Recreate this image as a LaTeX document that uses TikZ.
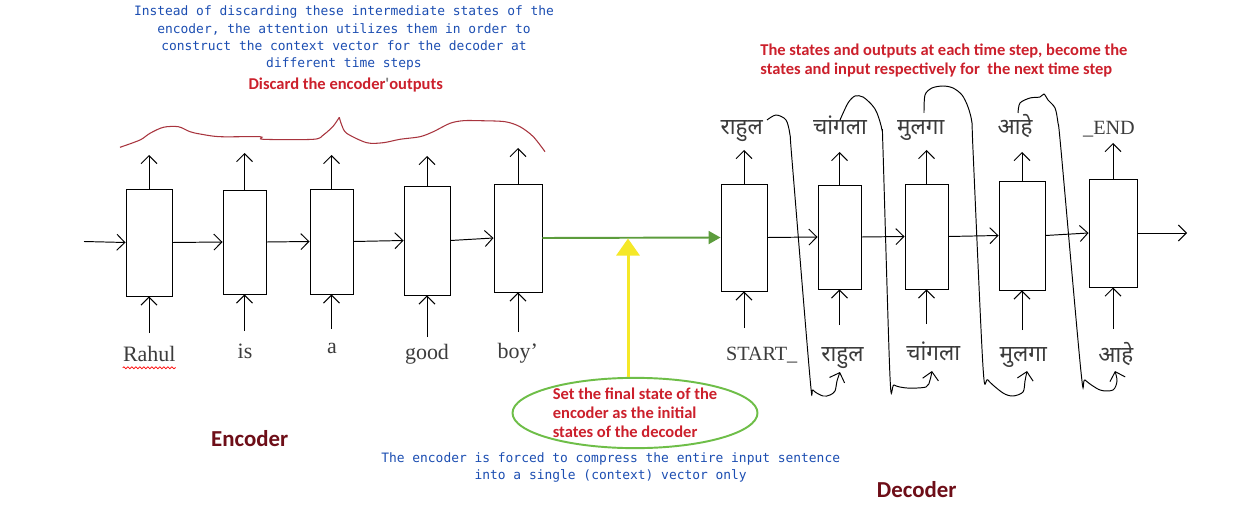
\documentclass[tikz,border=0pt]{standalone}
\usepackage{fontspec}
\setmainfont{Liberation Serif}
\newfontfamily\devafont[Script=Devanagari]{Noto Sans}
\newfontfamily\monofont{DejaVu Sans Mono}
\newfontfamily\calfont{Carlito}
\usetikzlibrary{arrows.meta,shapes.geometric,decorations.pathmorphing}
\definecolor{bluetxt}{RGB}{28,78,178}
\definecolor{redtxt}{RGB}{204,32,44}
\definecolor{darkred}{RGB}{110,14,24}
\definecolor{curvered}{RGB}{168,52,62}
\definecolor{arrgreen}{RGB}{92,156,60}
\definecolor{ellgreen}{RGB}{110,190,72}
\definecolor{yel}{RGB}{245,232,40}
\definecolor{labgray}{RGB}{60,60,60}
\begin{document}
\begin{tikzpicture}[x=0.2mm,y=-0.2mm,
  cell/.style={draw,line width=0.55pt,inner sep=0pt},
  arr/.style={-{Straight Barb[length=1.6mm,width=3.2mm]},line width=0.55pt},
  word/.style={anchor=base,inner sep=0pt,text=labgray,font=\fontsize{12.5}{15}\selectfont},
  dword/.style={anchor=base,inner sep=0pt,text=labgray,font=\devafont\fontsize{12.8}{15}\selectfont},
  bluenote/.style={inner sep=0pt,align=center,text=bluetxt,font=\monofont\fontsize{7.35}{9.85}\selectfont},
  rednote/.style={inner sep=0pt,text=redtxt,font=\calfont\bfseries\fontsize{9.4}{10.9}\selectfont},
  bigtitle/.style={inner sep=0pt,text=darkred,font=\calfont\bfseries\fontsize{13}{15}\selectfont},
  greenarr/.style={draw=arrgreen,line width=1.1pt,-{Triangle[length=2.4mm,width=2.6mm]},arrgreen},
  yelarr/.style={draw=yel,line width=1.7pt,-{Triangle[length=3.4mm,width=4.6mm]},yel},
  ell/.style={ellipse,draw=ellgreen,line width=1.1pt,minimum width=49mm,minimum height=13.8mm,inner sep=0pt,align=left,text=redtxt,font=\calfont\bfseries\fontsize{9.4}{10.8}\selectfont}
]
\fill[white] (0,0) rectangle (1253,519);
\useasboundingbox (0,0) rectangle (1253,519);

% ---------- encoder cells ----------
\node[cell,minimum width=9.2mm,minimum height=21.4mm] (E1) at (149,242.5) {};
\node[cell,minimum width=8.6mm,minimum height=20.8mm] (E2) at (244.5,242) {};
\node[cell,minimum width=8.6mm,minimum height=21mm]   (E3) at (331.5,241.5) {};
\node[cell,minimum width=9.2mm,minimum height=21.8mm] (E4) at (427,240.5) {};
\node[cell,minimum width=9.6mm,minimum height=21.6mm] (E5) at (518,238) {};

% ---------- decoder cells ----------
\node[cell,minimum width=9.2mm,minimum height=21.4mm] (D1) at (744,237.5) {};
\node[cell,minimum width=8.6mm,minimum height=20.8mm] (D2) at (839.5,237) {};
\node[cell,minimum width=8.6mm,minimum height=21mm]   (D3) at (926.5,236.5) {};
\node[cell,minimum width=9.2mm,minimum height=21.8mm] (D4) at (1022,235.5) {};
\node[cell,minimum width=9.6mm,minimum height=21.6mm] (D5) at (1113,233) {};

% ---------- coordinates for free arrow ends ----------
\coordinate (in0) at (84,241.5);
\coordinate (E1o) at (149,155);   \coordinate (E1i) at (149,333);
\coordinate (E2o) at (244.5,153); \coordinate (E2i) at (244.5,331);
\coordinate (E3o) at (331.5,155); \coordinate (E3i) at (331.5,329);
\coordinate (E4o) at (427,156);   \coordinate (E4i) at (427,337);
\coordinate (E5o) at (518,148);   \coordinate (E5i) at (518,332);
\coordinate (D1o) at (744,150);   \coordinate (D1i) at (744,328);
\coordinate (D2o) at (839.5,152); \coordinate (D2i) at (839.5,325);
\coordinate (D3o) at (926.5,150); \coordinate (D3i) at (926.5,324);
\coordinate (D4o) at (1022,152);  \coordinate (D4i) at (1022,330);
\coordinate (D5o) at (1113,143);  \coordinate (D5i) at (1113,329);
\coordinate (out5) at (1187,233);

% ---------- encoder arrows ----------
\draw[arr] (in0) -- (E1.west);
\draw[arr] (E1.east) -- (E2.west);
\draw[arr] (E2.east) -- (E3.west);
\draw[arr] (E3.east) -- (E4.west);
\draw[arr] (E4.east) -- (E5.west);
\foreach \n in {E1,E2,E3,E4,E5,D1,D2,D3,D4,D5}{
  \draw[arr] (\n.north) -- (\n o);
  \draw[arr] (\n i) -- (\n.south);
}
% ---------- decoder arrows ----------
\draw[arr] (D1.east) -- (D2.west);
\draw[arr] (D2.east) -- (D3.west);
\draw[arr] (D3.east) -- (D4.west);
\draw[arr] (D4.east) -- (D5.west);
\draw[arr] (D5.east) -- (out5);

% ---------- encoder words ----------
\node[word] (wRahul) at (149.3,361.7) {Rahul};
\node[word] (wis) at (245,358.3) {is};
\node[word] (wa) at (332,353.3) {a};
\node[word] (wgood) at (427,359) {good};
\node[word] (wboy) at (517.7,358.3) {boy'};
\draw[red,line width=0.4pt,decorate,decoration={snake,amplitude=0.2mm,segment length=0.8mm}]
  ([yshift=-1.1mm]wRahul.south west) -- ([yshift=-1.1mm]wRahul.south east);

% ---------- decoder words ----------
\node[word,font=\fontsize{11.5}{14}\selectfont] (wstart) at (761.7,360.7) {START\_};
\node[dword] (bin2) at (842.5,361.7) {राहुल};
\node[dword] (bin3) at (933.3,360) {चांगला};
\node[dword] (bin4) at (1023.3,361.7) {मुलगा};
\node[dword] (bin5) at (1115.8,362.3) {आहे};
\node[dword] (tout1) at (741.7,135) {राहुल};
\node[dword] (tout2) at (840,135) {चांगला};
\node[dword] (tout3) at (920.8,135) {मुलगा};
\node[dword] (tout4) at (1015,135) {आहे};
\node[word,font=\fontsize{11.5}{14}\selectfont] (tout5) at (1109,135) {\_END};

% ---------- feedback loops ----------
\draw[arr] plot[smooth,tension=0.5] coordinates {(767,120) (776,115) (786,120) (790,135) (792,160) (810,378) (813,390) (823,396) (830,395) (835,391) (837,381) (840,372)};
\draw[arr] plot[smooth,tension=0.5] coordinates {(840,120) (848,103) (855,96) (863,97) (872,105) (877,113) (882,130) (883,150) (890,377) (894,385) (907,388) (926,387) (930,380) (932,371)};
\draw[arr] plot[smooth,tension=0.5] coordinates {(924,113) (925,95) (932,88) (943,86) (953,88) (962,95) (968,107) (972,123) (973,150) (983,367) (988,380) (1003,393) (1013,396) (1023,392) (1025,381) (1027,371)};
\draw[arr] plot[smooth,tension=0.5] coordinates {(1018,113) (1020,103) (1030,98) (1040,97) (1044,94) (1048,100) (1055,108) (1058,123) (1061,150) (1081,372) (1085,380) (1100,390) (1113,390) (1117,381) (1115,371)};

% ---------- red brace-like curve ----------
\draw[curvered,line width=0.6pt] plot[smooth,tension=0.5] coordinates {(120,147.3) (140,140) (150,133.3) (163.3,127.3) (178.3,126.7) (190,131.7) (200,134) (220,136.7) (260,136.7) (263.3,139.3) (313.3,139.3) (323.3,135) (333.3,126) (339.3,117.3)};
\draw[curvered,line width=0.6pt] plot[smooth,tension=0.5] coordinates {(339.3,117.3) (341.7,125) (346.7,133.3) (366.7,142.7) (383.3,142.7) (400,139.3) (420,136.7) (433.3,131.7) (450,123.3) (463.3,120.7) (480,120.7) (505,121.7) (520,126.7) (533.3,136.7) (545,151.7)};

% ---------- context vector ----------
\draw[greenarr] (E5.east) -- (D1.west);
\node[ell] (ell) at (635,413) {Set the final state of the\\encoder as the initial\\states of the decoder};
\coordinate (ctx) at (628,238.5);
\draw[yelarr] (ell.north -| ctx) -- (ctx);

% ---------- notes ----------
\node[bluenote] (noteA) at (344,38.3) {Instead of discarding these intermediate states of the\\encoder, the attention utilizes them in order to\\construct the context vector for the decoder at\\different time steps};
\node[rednote] (noteB) at (345.7,85) {Discard the encoder{\color{gray}'}outputs};
\node[rednote,anchor=west,align=left] (noteC) at (760,60.3) {The states and outputs at each time step, become the\\states and input respectively for\ \ the next time step};
\node[bluenote] (noteD) at (610.7,467.5) {The encoder is forced to compress the entire input sentence\\into a single (context) vector only};
\node[bigtitle] (enc) at (249.7,439) {Encoder};
\node[bigtitle] (dec) at (916.7,490) {Decoder};
\end{tikzpicture}
\end{document}
